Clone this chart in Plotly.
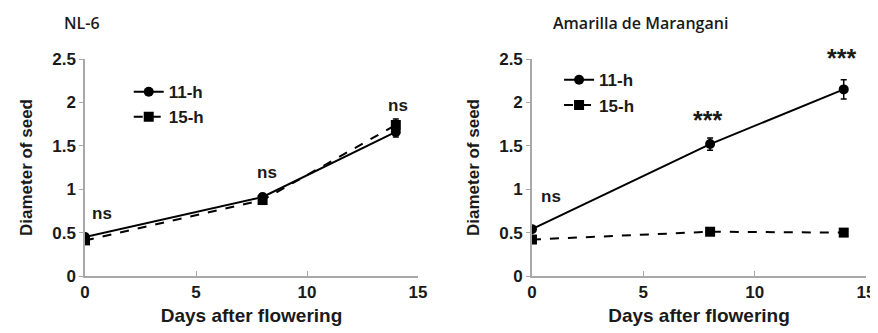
import plotly.graph_objects as go

days = [0, 8, 14]

# NL-6
nl6_11h = [0.45, 0.91, 1.66]
nl6_11h_err = [0.03, 0.03, 0.06]
nl6_15h = [0.41, 0.875, 1.74]
nl6_15h_err = [0.03, 0.03, 0.07]
nl6_sig = ["ns", "ns", "ns"]
nl6_sig_x = [0.75, 8.2, 14.1]
nl6_sig_y = [0.72, 1.19, 1.97]

# Amarilla de Marangani
am_11h = [0.54, 1.52, 2.15]
am_11h_err = [0.03, 0.07, 0.11]
am_15h = [0.42, 0.51, 0.50]
am_15h_err = [0.02, 0.02, 0.02]
am_sig = ["ns", "***", "***"]
am_sig_x = [0.85, 7.9, 13.9]
am_sig_y = [0.92, 1.80, 2.51]

titles = ["NL-6", "Amarilla de Marangani"]
x_ticks = [0, 5, 10, 15]
y_ticks = [0, 0.5, 1, 1.5, 2, 2.5]
y_tick_text = ["0", "0.5", "1", "1.5", "2", "2.5"]
Y_MAX = 2.5

FONT = "Liberation Sans"
BOLD = dict(family=FONT, size=17, color="#1a1a1a", weight="bold")

fig = go.Figure()

def add_panel(xa, ya, y11, e11, y15, e15, legend):
    fig.add_trace(go.Scatter(
        x=days, y=y11, name="11-h", mode="lines+markers",
        line=dict(color="black", width=2),
        marker=dict(symbol="circle", size=10, color="black"),
        error_y=dict(type="data", array=e11, color="black", thickness=1.5, width=3),
        xaxis=xa, yaxis=ya, legend=legend))
    fig.add_trace(go.Scatter(
        x=days, y=y15, name="15-h", mode="lines+markers",
        line=dict(color="black", width=2, dash="dash"),
        marker=dict(symbol="square", size=10, color="black"),
        error_y=dict(type="data", array=e15, color="black", thickness=1.5, width=3),
        xaxis=xa, yaxis=ya, legend=legend))

add_panel("x", "y", nl6_11h, nl6_11h_err, nl6_15h, nl6_15h_err, "legend")
add_panel("x2", "y2", am_11h, am_11h_err, am_15h, am_15h_err, "legend2")

axis_common = dict(showgrid=False, zeroline=False, showline=True,
                   linecolor="#a8a8a8", linewidth=1.5, automargin=False,
                   tickfont=BOLD, tickcolor="#a8a8a8", ticklen=5)

xcommon = dict(axis_common, range=[0, 15], tickvals=x_ticks, ticks="inside",
               title=dict(text="Days after flowering", font=dict(BOLD, size=19), standoff=8))
ycommon = dict(axis_common, range=[0, Y_MAX], tickvals=y_ticks, ticktext=y_tick_text,
               ticks="outside", ticklen=4,
               title=dict(text="Diameter of seed", font=dict(BOLD, size=17), standoff=15))

fig.update_layout(
    width=870, height=325,
    margin=dict(l=77, r=12, t=51, b=57),
    paper_bgcolor="white", plot_bgcolor="white",
    xaxis=dict(xcommon, domain=[0, 0.4264], anchor="y"),
    yaxis=dict(ycommon, anchor="x"),
    xaxis2=dict(xcommon, domain=[0.5723, 1], anchor="y2"),
    yaxis2=dict(ycommon, anchor="x2"),
    legend=dict(x=0.056, y=0.93, xanchor="left", yanchor="top",
                font=BOLD, bgcolor="rgba(0,0,0,0)", tracegroupgap=0),
    legend2=dict(x=0.607, y=0.985, xanchor="left", yanchor="top",
                 font=BOLD, bgcolor="rgba(0,0,0,0)", tracegroupgap=0),
    showlegend=True,
)

# panel titles (page offset of 8px accounted for in margins)
for t, xp in zip(titles, [62, 551]):
    fig.add_annotation(text=t, xref="paper", yref="paper",
                       x=(xp - 85) / 781, y=(276 - 23) / 217,
                       xanchor="left", yanchor="middle", showarrow=False,
                       font=dict(family="Open Sans", size=16, color="#1a1a1a", weight=600))

px_per_unit = 217 / Y_MAX
for xs, ys, ts, xr, yr in [(nl6_sig_x, nl6_sig_y, nl6_sig, "x", "y"),
                            (am_sig_x, am_sig_y, am_sig, "x2", "y2")]:
    for x, y, t in zip(xs, ys, ts):
        yy = min(y, Y_MAX)
        size = 25 if "*" in t else 17
        fig.add_annotation(text=t, x=x, y=yy, xref=xr, yref=yr,
                           yshift=(y - yy) * px_per_unit,
                           showarrow=False, font=dict(BOLD, size=size))

fig.write_html("out.html")
